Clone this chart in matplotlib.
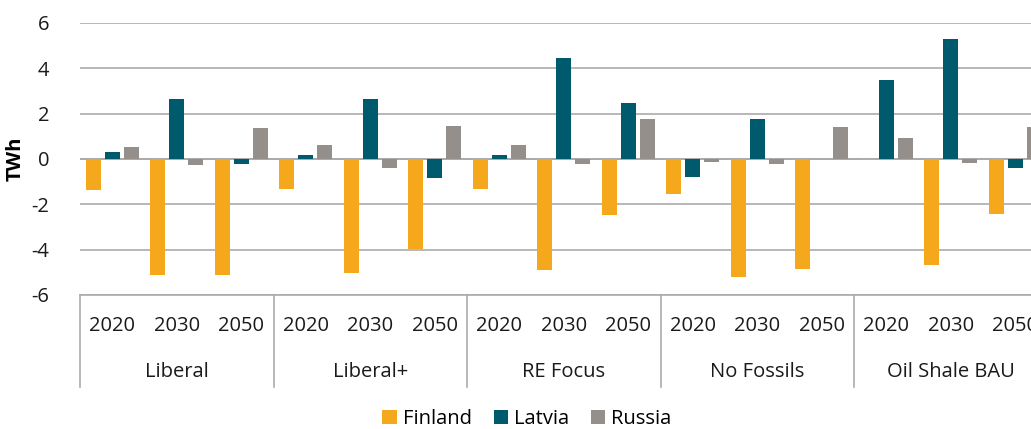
import matplotlib
matplotlib.use("Agg")
import matplotlib.pyplot as plt
import matplotlib.transforms as mtransforms
from matplotlib.patches import Patch
import numpy as np

groups = ["Liberal", "Liberal+", "RE Focus", "No Fossils", "Oil Shale BAU"]
years = ["2020", "2030", "2050"]
finland = [-1.36, -5.12, -5.12, -1.33, -5.01, -3.98, -1.32, -4.90, -2.49,
           -1.54, -5.19, -4.86, -0.05, -4.68, -2.44]
latvia = [0.30, 2.65, -0.22, 0.19, 2.66, -0.82, 0.16, 4.44, 2.49,
          -0.78, 1.75, 0.0, 3.48, 5.28, -0.41]
russia = [0.54, -0.26, 1.37, 0.63, -0.38, 1.45, 0.61, -0.20, 1.78,
          -0.12, -0.22, 1.40, 0.92, -0.16, 1.40]
series_names = ["Finland", "Latvia", "Russia"]
colors = ["#F6A81D", "#005A6E", "#948F8B"]
yticks = [-6, -4, -2, 0, 2, 4, 6]

plt.rcParams["font.family"] = ["Open Sans", "DejaVu Sans"]

fig = plt.figure(figsize=(10.31, 4.29), dpi=100)
ax = fig.add_axes([80 / 1031, (429 - 295) / 429, 967.5 / 1031, (295 - 23) / 429])

n = len(finland)
x = np.arange(n)
w = 0.233
off = 0.295
for i, (vals, c) in enumerate(zip([finland, latvia, russia], colors)):
    ax.bar(x + (i - 1) * off, vals, width=w, color=c, zorder=3, label=series_names[i])

ax.set_xlim(-0.5, n - 0.5)
ax.set_ylim(-6, 6)
ax.set_yticks(yticks)
ax.set_yticklabels([str(t) for t in yticks], fontsize=14.5, color="#1a1a1a")
ax.tick_params(axis="y", length=0, pad=22)
ax.set_xticks([])
ax.grid(axis="y", color="#ABABAB", linewidth=1.2, zorder=0)
ax.axhline(0, color="#ABABAB", linewidth=1.4, zorder=2)
for s in ["top", "right", "left"]:
    ax.spines[s].set_visible(False)
ax.spines["bottom"].set_color("#ABABAB")
ax.spines["bottom"].set_linewidth(1.2)

ax.set_ylabel("TWh", fontsize=14.5, fontweight="bold", labelpad=4)

trans = mtransforms.blended_transform_factory(ax.transData, ax.transAxes)
h = 272.0
y_year = -(326 - 295) / h
y_group = -(372 - 295) / h
y_sep = -(387 - 295) / h
for k in range(n):
    ax.text(k, y_year, years[k % 3], transform=trans, ha="center", va="center",
            fontsize=14.5, color="#1a1a1a", clip_on=False)
for g, name in enumerate(groups):
    ax.text(g * 3 + 1, y_group, name, transform=trans, ha="center", va="center",
            fontsize=14.5, color="#1a1a1a", clip_on=False)
for g in range(len(groups) + 1):
    xb = g * 3 - 0.5
    ax.plot([xb, xb], [0, y_sep], transform=trans, color="#ABABAB",
            linewidth=1.2, clip_on=False)

handles = [Patch(facecolor=c, label=l) for c, l in zip(colors, series_names)]
fig.legend(handles=handles, loc="center", bbox_to_anchor=(527 / 1031, 1 - 419 / 429),
           ncol=3, frameon=False, fontsize=14.5, handlelength=0.7, handleheight=0.7,
           handletextpad=0.3, columnspacing=1.1)

fig.savefig("out.png", dpi=100)
